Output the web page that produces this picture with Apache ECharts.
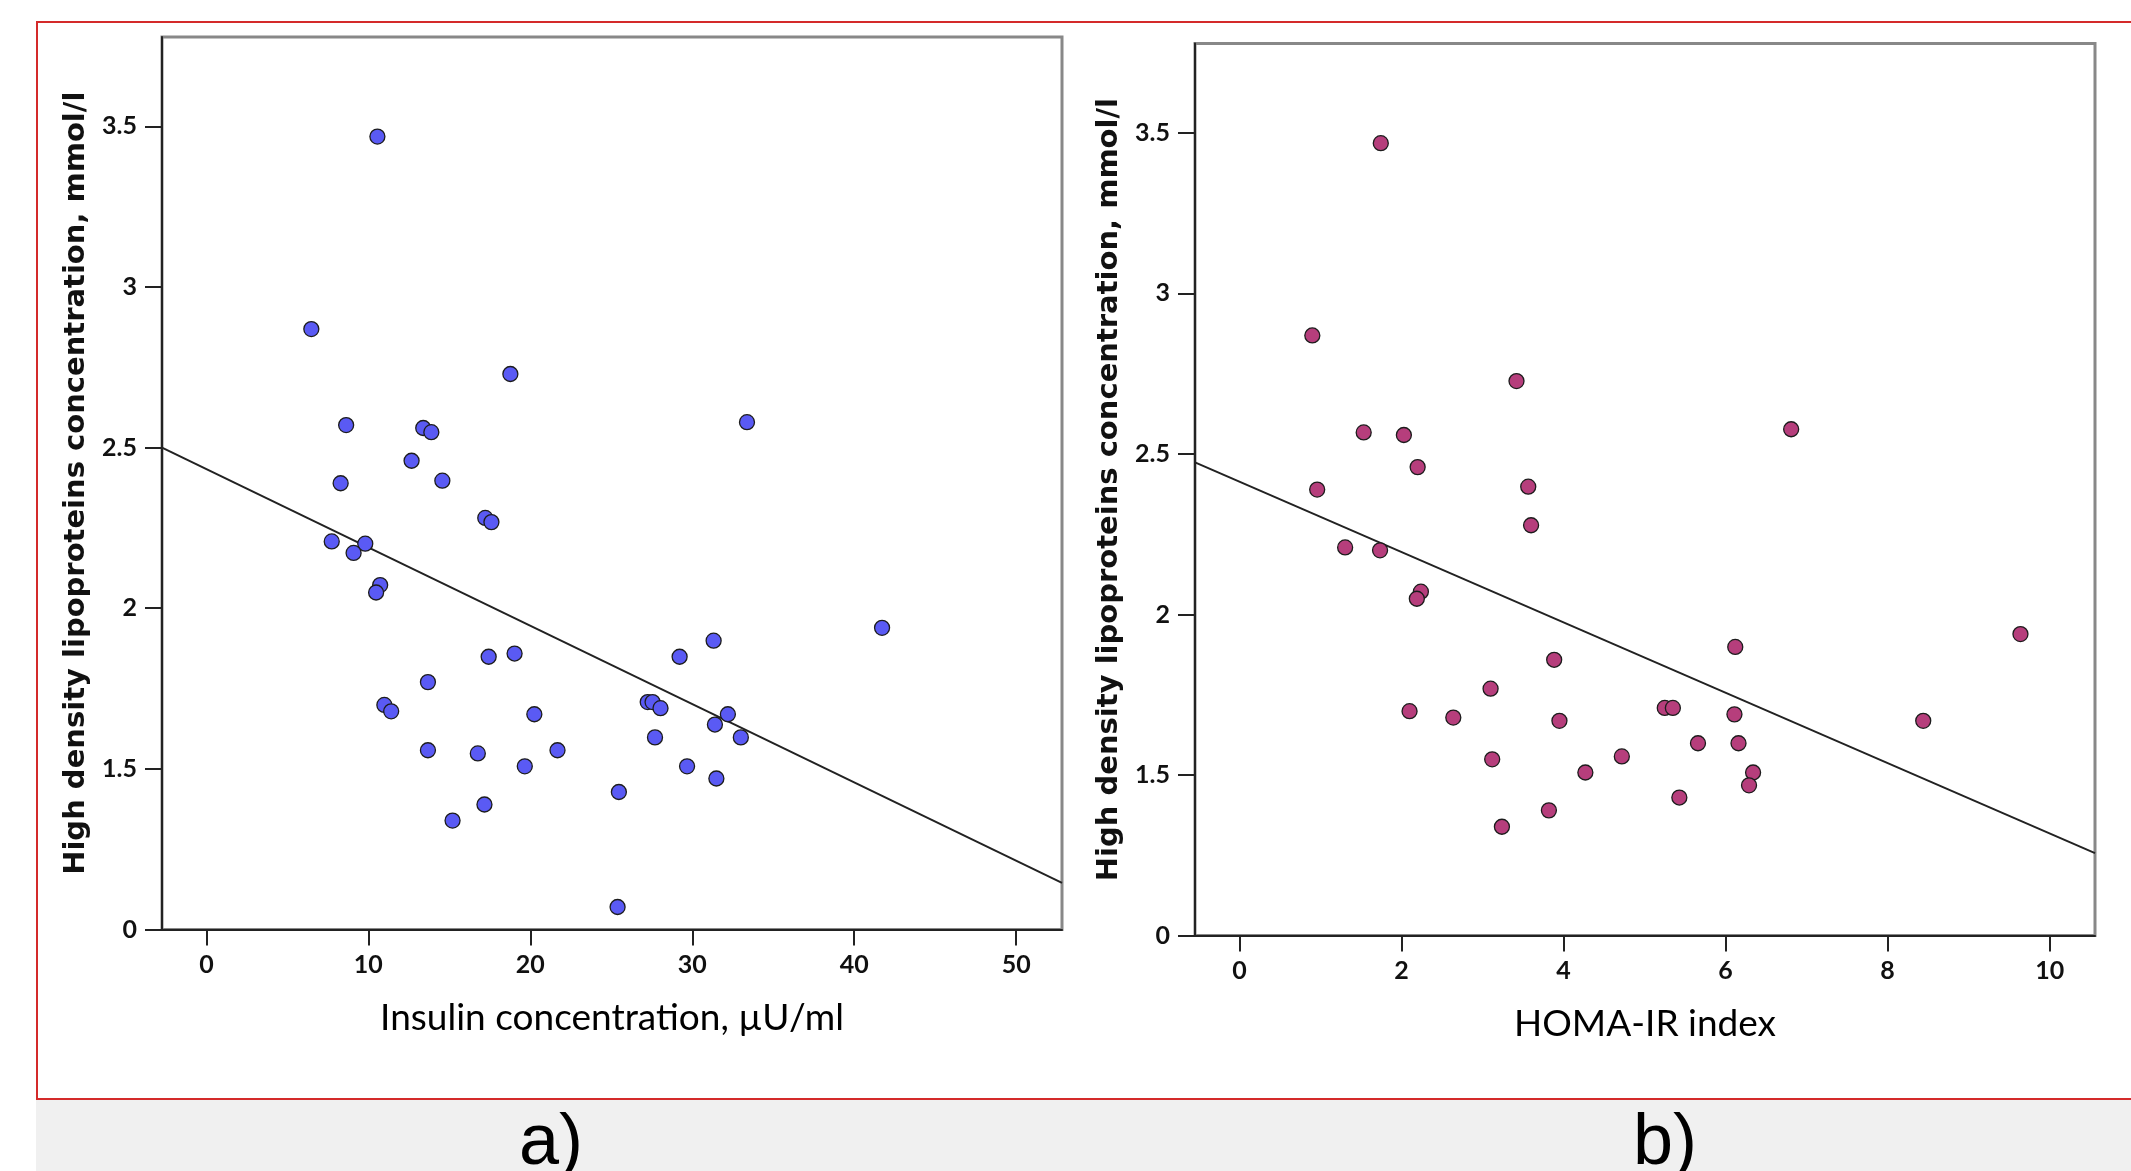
<!DOCTYPE html>
<html><head><meta charset="utf-8">
<script src="https://cdn.jsdelivr.net/npm/echarts@6/dist/echarts.min.js"></script>
<style>html,body{margin:0;padding:0;background:#fff}#c{width:2131px;height:1171px}</style>
</head><body><div id="c"></div>
<script>
// Panel a) Insulin concentration vs HDL
const insulinX = [10.56, 6.48, 18.77, 33.38, 8.63, 13.39, 13.89, 12.67, 14.57, 8.29, 17.22, 17.60, 7.74, 9.81, 9.09, 10.73, 10.48, 41.72, 31.32, 17.43, 19.03, 29.22, 13.68, 10.99, 11.41, 27.25, 27.55, 28.04, 20.25, 32.20, 31.40, 27.70, 33.00, 13.68, 16.76, 21.68, 19.66, 29.68, 31.49, 25.47, 17.17, 15.20, 25.39];
const hdlA = [3.468, 2.869, 2.729, 2.579, 2.570, 2.561, 2.548, 2.459, 2.397, 2.389, 2.281, 2.268, 2.208, 2.201, 2.172, 2.072, 2.049, 1.939, 1.899, 1.849, 1.859, 1.849, 1.770, 1.699, 1.679, 1.708, 1.708, 1.689, 1.670, 1.670, 1.638, 1.598, 1.598, 1.558, 1.548, 1.558, 1.508, 1.508, 1.470, 1.428, 1.389, 1.339, 1.070];
const fitA = [[-2.74, 2.500], [52.83, 1.145]];
// Panel b) HOMA-IR index vs HDL
const homaX = [1.745, 0.90, 3.42, 6.81, 1.534, 2.03, 2.20, 0.96, 3.565, 3.60, 1.305, 1.736, 2.24, 2.19, 9.64, 6.12, 3.885, 3.10, 2.10, 2.64, 5.25, 5.35, 3.95, 6.11, 8.44, 5.66, 6.16, 4.72, 3.12, 4.27, 6.34, 6.29, 5.43, 3.82, 3.24];
const hdlB = [3.468, 2.869, 2.727, 2.577, 2.567, 2.559, 2.459, 2.389, 2.398, 2.278, 2.209, 2.200, 2.071, 2.049, 1.939, 1.899, 1.859, 1.769, 1.699, 1.679, 1.709, 1.709, 1.669, 1.689, 1.669, 1.599, 1.599, 1.558, 1.549, 1.508, 1.508, 1.468, 1.430, 1.390, 1.339];
const fitB = [[-0.548, 2.474], [10.56, 1.257]];
// Axis ticks and labels
const xTicksA = [0, 10, 20, 30, 40, 50];
const xTicksB = [0, 2, 4, 6, 8, 10];
const yTickValues = [1, 1.5, 2, 2.5, 3, 3.5];
const yTickLabels = ['0', '1.5', '2', '2.5', '3', '3.5'];
const yTitle = 'High density lipoproteins concentration, mmol/l';
const xTitleA = 'Insulin concentration, \u00b5U/ml';
const xTitleB = 'HOMA-IR index';
const panelLabels = ['a)', 'b)'];

const tickFont = 'Lato, "Liberation Sans", sans-serif';
function xAxisCfg(idx, min, max, ticks, name) {
  return {
    type: 'value', gridIndex: idx, min: min, max: max,
    name: name, nameLocation: 'middle', nameGap: 70,
    nameTextStyle: {fontFamily: 'Lato, sans-serif', fontSize: 37, color: '#000'},
    axisLine: {show: true, onZero: false, lineStyle: {color: '#222', width: 2}},
    axisTick: {show: true, length: 16, customValues: ticks, lineStyle: {color: '#222', width: 2}},
    axisLabel: {customValues: ticks, margin: 23, fontFamily: tickFont, fontWeight: 'bold', fontSize: 25, color: '#111'},
    splitLine: {show: false}
  };
}
function yAxisCfg(idx) {
  return {
    type: 'value', gridIndex: idx, min: 1, max: 3.778,
    name: yTitle, nameLocation: 'middle', nameRotate: 90, nameGap: 71,
    nameTextStyle: {fontFamily: '"DejaVu Sans", sans-serif', fontWeight: 'bold', fontSize: 29, color: '#111'},
    axisLine: {show: true, onZero: false, lineStyle: {color: '#222', width: 2}},
    axisTick: {show: true, length: 17, customValues: yTickValues, lineStyle: {color: '#222', width: 2}},
    axisLabel: {customValues: yTickValues, margin: 25, fontFamily: tickFont, fontWeight: 'bold', fontSize: 25, color: '#111',
      formatter: function (v) { const i = yTickValues.indexOf(v); return i >= 0 ? yTickLabels[i] : ''; }},
    splitLine: {show: false}
  };
}

const chart = echarts.init(document.getElementById('c'), null, {renderer: 'canvas'});
chart.setOption({
  backgroundColor: '#ffffff',
  animation: false,
  graphic: [
    {type: 'rect', z: -10, shape: {x: 37, y: 22, width: 2120, height: 1077}, style: {fill: '#ffffff', stroke: '#d42a2a', lineWidth: 2}},
    {type: 'rect', z: -10, shape: {x: 36, y: 1100, width: 2100, height: 80}, style: {fill: '#f0f0f0'}},
    {type: 'text', z: 10, x: 551, y: 1144, style: {text: panelLabels[0], font: '72px "Liberation Sans", Arial, sans-serif', fill: '#000', align: 'center', verticalAlign: 'middle'}},
    {type: 'text', z: 10, x: 1665, y: 1144, style: {text: panelLabels[1], font: '72px "Liberation Sans", Arial, sans-serif', fill: '#000', align: 'center', verticalAlign: 'middle'}}
  ],
  grid: [
    {left: 162, top: 37, width: 900, height: 892.5, show: true, borderColor: '#888', borderWidth: 3, backgroundColor: 'transparent'},
    {left: 1195, top: 43.6, width: 900, height: 892, show: true, borderColor: '#888', borderWidth: 3, backgroundColor: 'transparent'}
  ],
  xAxis: [xAxisCfg(0, -2.74, 52.83, xTicksA, xTitleA), xAxisCfg(1, -0.548, 10.56, xTicksB, xTitleB)],
  yAxis: [yAxisCfg(0), yAxisCfg(1)],
  series: [
    {type: 'line', xAxisIndex: 0, yAxisIndex: 0, z: 1, data: fitA, showSymbol: false, symbol: 'none', clip: true,
      lineStyle: {color: '#222', width: 2}},
    {type: 'scatter', xAxisIndex: 0, yAxisIndex: 0, z: 3, data: insulinX.map((x, i) => [x, hdlA[i]]), symbolSize: 15,
      itemStyle: {color: '#5a5af4', borderColor: '#1c1c1c', borderWidth: 1.3, opacity: 1}},
    {type: 'line', xAxisIndex: 1, yAxisIndex: 1, z: 1, data: fitB, showSymbol: false, symbol: 'none', clip: true,
      lineStyle: {color: '#222', width: 2}},
    {type: 'scatter', xAxisIndex: 1, yAxisIndex: 1, z: 3, data: homaX.map((x, i) => [x, hdlB[i]]), symbolSize: 15,
      itemStyle: {color: '#b63e7c', borderColor: '#1c1c1c', borderWidth: 1.3, opacity: 1}}
  ]
});
</script></body></html>
